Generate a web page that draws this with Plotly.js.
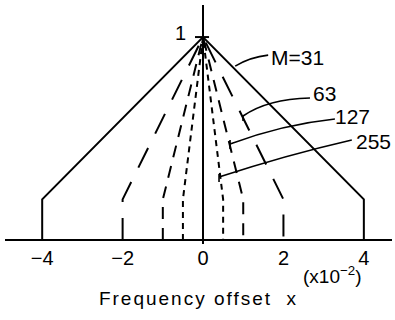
<!DOCTYPE html>
<html>
<head>
<meta charset="utf-8">
<script src="https://cdn.plot.ly/plotly-3.0.1.min.js"></script>
<style>
  html, body { margin: 0; padding: 0; background: #fff; }
  #chart { width: 395px; height: 320px; }
  .xtitle { letter-spacing: 2px; }
</style>
</head>
<body>
<div id="chart"></div>
<script>
// Response envelopes versus frequency offset (x10^-2) for each window length M
const seriesNames = ['M=31', '63', '127', '255'];

const m31X = [-4, -4, 0, 4, 4];
const m31Y = [0, 0.2, 1, 0.2, 0];

const m63X = [-2, -2, 0, 2, 2];
const m63Y = [0, 0.2, 1, 0.2, 0];

const m127X = [-1, -1, 0, 1, 1];
const m127Y = [0, 0.2, 1, 0.2, 0];

const m255X = [-0.5, -0.5, 0, 0.5, 0.5];
const m255Y = [0, 0.2, 1, 0.2, 0];

const tickValues = [-4, -2, 0, 2, 4];
const tickLabels = ['\u22124', '\u22122', '0', '2', '4'];

const FONT = 'Liberation Sans, Arial, sans-serif';

function envelope(x, y, name, dash) {
  return {
    x: x, y: y, name: name, type: 'scatter', mode: 'lines',
    line: { color: '#000', width: 2, dash: dash },
    hoverinfo: 'skip', showlegend: false
  };
}

const traces = [
  envelope(m31X, m31Y, seriesNames[0], 'solid'),
  envelope(m63X, m63Y, seriesNames[1], '22px,16px'),
  envelope(m127X, m127Y, seriesNames[2], '12px,9px'),
  envelope(m255X, m255Y, seriesNames[3], '6px,5px')
];

const leader = { color: '#000', width: 1.6 };

const layout = {
  width: 395, height: 320,
  margin: { l: 5, r: 3, t: 5, b: 76 },
  paper_bgcolor: '#fff', plot_bgcolor: '#fff',
  font: { family: FONT, color: '#000' },
  xaxis: {
    range: [-4.925, 4.70],
    showgrid: false, showline: false,
    zeroline: true, zerolinecolor: '#000', zerolinewidth: 1.6,
    tickmode: 'array', tickvals: tickValues, ticktext: tickLabels,
    ticks: '', tickfont: { size: 20, family: FONT },
    title: { text: 'Frequency offset\u00a0\u00a0x', font: { size: 19, family: FONT }, standoff: 23 }
  },
  yaxis: {
    range: [-0.0197, 1.158],
    showgrid: false, showline: false, showticklabels: false, ticks: '',
    zeroline: true, zerolinecolor: '#000', zerolinewidth: 2
  },
  shapes: [
    // tick mark at unity
    { type: 'line', xref: 'x', yref: 'y', x0: -0.2, x1: 0.15, y0: 1, y1: 1, line: { color: '#000', width: 2 } },
    // label leaders
    { type: 'path', xref: 'x', yref: 'y', path: 'M 0.80,0.857 Q 1.17,0.901 1.62,0.911', line: leader },
    { type: 'path', xref: 'x', yref: 'y', path: 'M 0.995,0.586 L 0.995,0.611 Q 1.60,0.695 2.66,0.70', line: leader },
    { type: 'path', xref: 'x', yref: 'y', path: 'M 0.672,0.448 L 0.672,0.493 M 0.672,0.473 Q 1.98,0.569 3.28,0.596', line: leader },
    { type: 'path', xref: 'x', yref: 'y', path: 'M 0.398,0.286 L 0.398,0.325 M 0.398,0.310 Q 2.01,0.416 3.70,0.493', line: leader }
  ],
  annotations: [
    { x: -0.55, y: 1.02, xref: 'x', yref: 'y', text: '1', showarrow: false, font: { size: 20, family: FONT } },
    { x: 2.34, y: 0.90, xref: 'x', yref: 'y', text: seriesNames[0], showarrow: false, font: { size: 21, family: FONT } },
    { x: 3.01, y: 0.72, xref: 'x', yref: 'y', text: seriesNames[1], showarrow: false, font: { size: 21, family: FONT } },
    { x: 3.71, y: 0.61, xref: 'x', yref: 'y', text: seriesNames[2], showarrow: false, font: { size: 21, family: FONT } },
    { x: 4.23, y: 0.483, xref: 'x', yref: 'y', text: seriesNames[3], showarrow: false, font: { size: 21, family: FONT } },
    { x: 0.845, y: -0.13, xref: 'paper', yref: 'paper', xanchor: 'center', yanchor: 'middle',
      text: '(x10<sup>\u22122</sup>)', showarrow: false, font: { size: 19, family: FONT } }
  ]
};

Plotly.newPlot('chart', traces, layout, { staticPlot: true, displayModeBar: false });
</script>
</body>
</html>
